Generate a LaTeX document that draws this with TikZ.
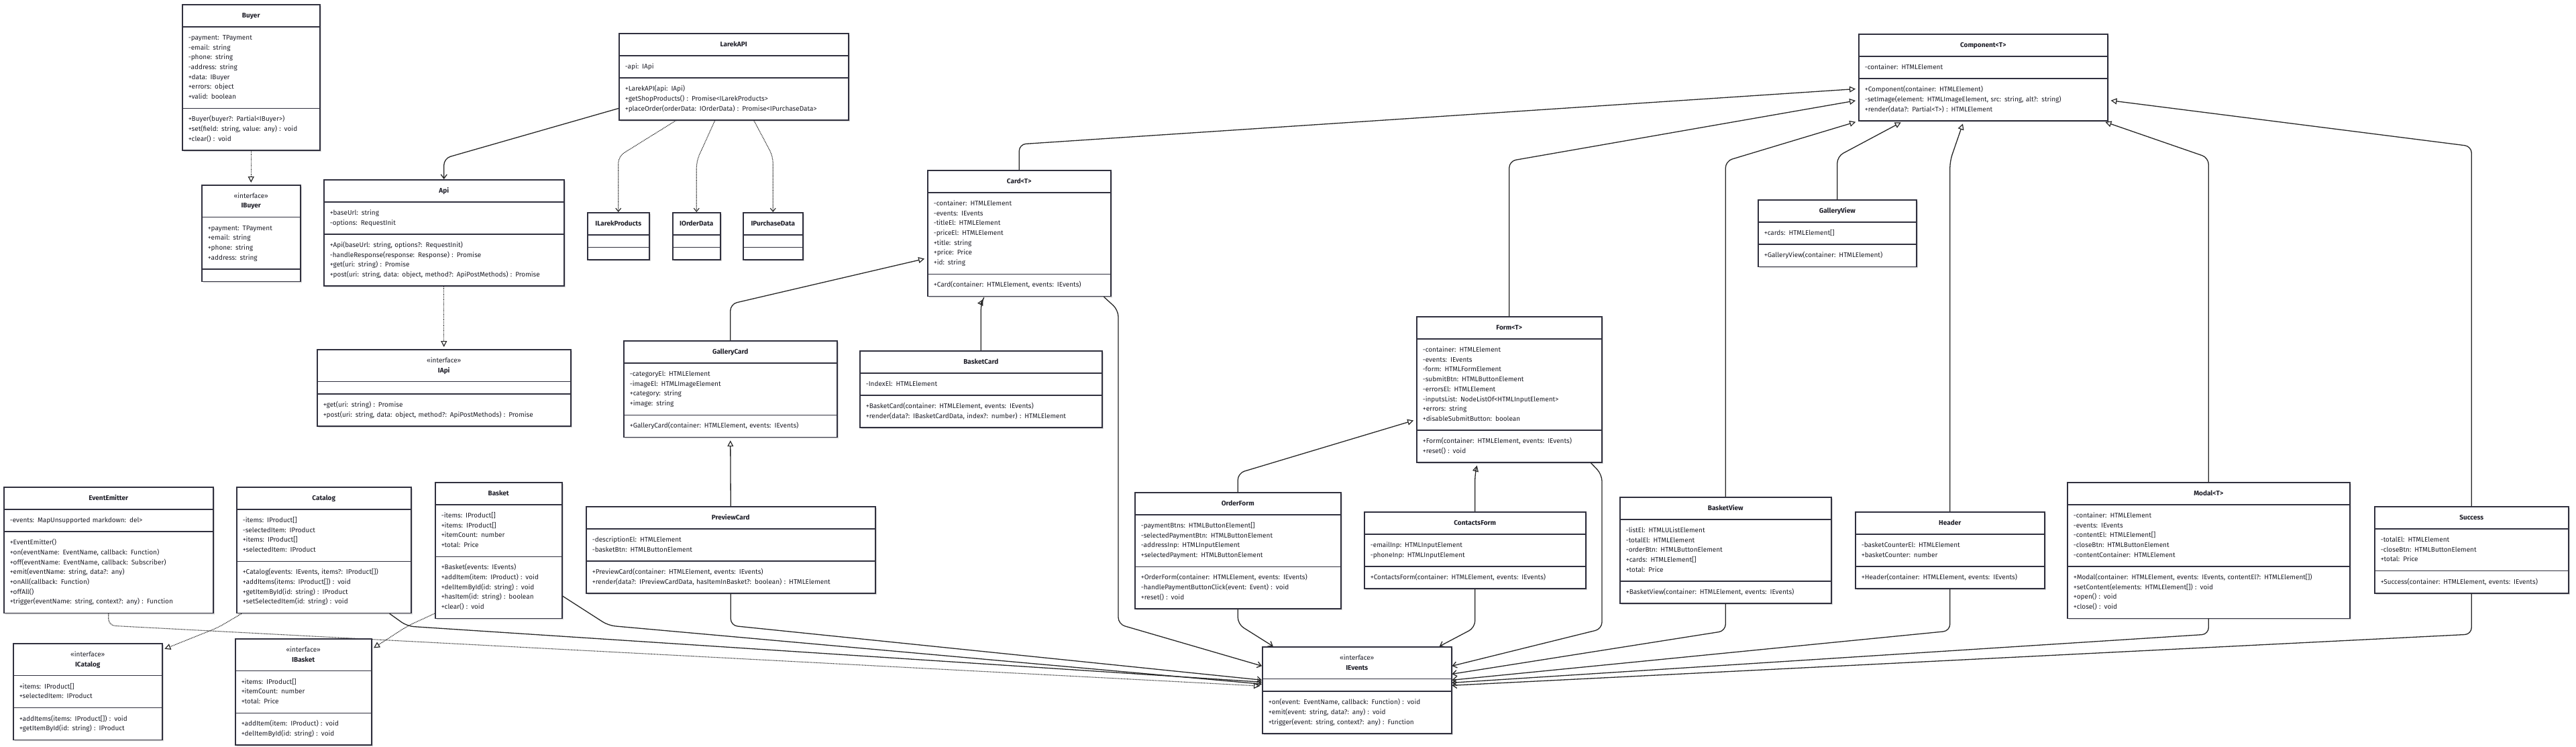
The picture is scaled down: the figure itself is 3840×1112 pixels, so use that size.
\documentclass[tikz,border=0pt]{standalone}
\usepackage{fontspec}
\newfontfamily\umlfont{Fira Sans}
\usetikzlibrary{arrows.meta,shapes.multipart,shadows}
\definecolor{boxline}{RGB}{48,48,62}
\definecolor{boxtext}{RGB}{30,30,40}
\pgfdeclarelayer{background}
\pgfsetlayers{background,main}
\newcommand\ctitle[1]{\makebox[\linewidth]{\strut\textbf{#1}}}
\newcommand\ititle[1]{\makebox[\linewidth]{\begin{tabular}{@{}c@{}}«interface»\\\textbf{#1}\end{tabular}}}
\newcommand\members[1]{\begin{tabular}{@{}l@{}}#1\end{tabular}}
\tikzset{
	umlclass/.style={rectangle split, rectangle split parts=3, draw=boxline, line width=1.5pt, fill=white, text=boxtext,
		anchor=north west, inner xsep=9pt, inner ysep=8.5pt, font=\umlfont\fontsize{10}{14.7}\selectfont,
		rectangle split empty part height=0pt, drop shadow={shadow xshift=2pt, shadow yshift=-2pt, opacity=0.15, fill=black}},
	link/.style={line width=1.3pt, draw=black!85, rounded corners=10pt},
	inherit/.style={link, -{Triangle[open, length=9pt, width=9pt, line width=1.2pt]}, shorten >=4pt},
	realize/.style={link, densely dotted, line width=1.1pt, -{Triangle[open, length=9pt, width=9pt, line width=1.2pt]}, shorten >=3pt},
	depend/.style={link, densely dotted, line width=1.1pt, -{Straight Barb[length=5pt, width=8pt]}},
	assoc/.style={link, -{Straight Barb[length=6pt, width=9pt]}},
}

\begin{document}
\begin{tikzpicture}[x=1pt, y=-1pt]
			%%%%% START %%%%%
			\useasboundingbox (0,0) rectangle (3840,1112);
			
			% model
			\node[umlclass, text width=187pt] (buyer) at (271,6) {\ctitle{Buyer}
				\nodepart{second}\members{-payment: TPayment\\-email: string\\-phone: string\\-address: string\\+data: IBuyer\\+errors: object\\+valid: boolean}
				\nodepart{third}\members{+Buyer(buyer?: Partial<IBuyer>)\\+set(field: string, value: any) : void\\+clear() : void}};
			\node[umlclass, text width=129pt] (ibuyer) at (300,275) {\ititle{IBuyer}
				\nodepart{second}\members{+payment: TPayment\\+email: string\\+phone: string\\+address: string}
				\nodepart{third}};
			
			\node[umlclass, text width=340pt] (api) at (482,267) {\ctitle{Api}
				\nodepart{second}\members{+baseUrl: string\\-options: RequestInit}
				\nodepart{third}\members{+Api(baseUrl: string, options?: RequestInit)\\-handleResponse(response: Response) : Promise\\+get(uri: string) : Promise\\+post(uri: string, data: object, method?: ApiPostMethods) : Promise}};
			\node[umlclass, text width=360pt] (iapi) at (472,520) {\ititle{IApi}
				\nodepart{second}
				\nodepart{third}\members{+get(uri: string) : Promise\\+post(uri: string, data: object, method?: ApiPostMethods) : Promise}};
			
			\node[umlclass, text width=324pt] (larekapi) at (922,49) {\ctitle{LarekAPI}
				\nodepart{second}\members{-api: IApi}
				\nodepart{third}\members{+LarekAPI(api: IApi)\\+getShopProducts() : Promise<ILarekProducts>\\+placeOrder(orderData: IOrderData) : Promise<IPurchaseData>}};
			\node[umlclass, text width=74pt] (ilarekproducts) at (875,316) {\ctitle{ILarekProducts}\nodepart{second}\nodepart{third}};
			\node[umlclass, text width=53pt] (iorderdata) at (1002,316) {\ctitle{IOrderData}\nodepart{second}\nodepart{third}};
			\node[umlclass, text width=71pt] (ipurchasedata) at (1107,316) {\ctitle{IPurchaseData}\nodepart{second}\nodepart{third}};
			
			\node[umlclass, text width=294pt] (eventemitter) at (5,725) {\ctitle{EventEmitter}
				\nodepart{second}\members{-events: MapUnsupported markdown: del>}
				\nodepart{third}\members{+EventEmitter()\\+on(eventName: EventName, callback: Function)\\+off(eventName: EventName, callback: Subscriber)\\+emit(eventName: string, data?: any)\\+onAll(callback: Function)\\+offAll()\\+trigger(eventName: string, context?: any) : Function}};
			\node[umlclass, text width=242pt] (catalog) at (352,725) {\ctitle{Catalog}
				\nodepart{second}\members{-items: IProduct[]\\-selectedItem: IProduct\\+items: IProduct[]\\+selectedItem: IProduct}
				\nodepart{third}\members{+Catalog(events: IEvents, items?: IProduct[])\\+addItems(items: IProduct[]) : void\\+getItemById(id: string) : IProduct\\+setSelectedItem(id: string) : void}};
			\node[umlclass, text width=171pt] (basket) at (648,718) {\ctitle{Basket}
				\nodepart{second}\members{-items: IProduct[]\\+items: IProduct[]\\+itemCount: number\\+total: Price}
				\nodepart{third}\members{+Basket(events: IEvents)\\+addItem(item: IProduct) : void\\+delItemById(id: string) : void\\+hasItem(id: string) : boolean\\+clear() : void}};
			\node[umlclass, text width=204pt] (icatalog) at (19,958) {\ititle{ICatalog}
				\nodepart{second}\members{+items: IProduct[]\\+selectedItem: IProduct}
				\nodepart{third}\members{+addItems(items: IProduct[]) : void\\+getItemById(id: string) : IProduct}};
			\node[umlclass, text width=185pt] (ibasket) at (350,951) {\ititle{IBasket}
				\nodepart{second}\members{+items: IProduct[]\\+itemCount: number\\+total: Price}
				\nodepart{third}\members{+addItem(item: IProduct) : void\\+delItemById(id: string) : void}};
			
			% cards
			\node[umlclass, text width=255pt] (card) at (1382,253) {\ctitle{Card<T>}
				\nodepart{second}\members{-container: HTMLElement\\-events: IEvents\\-titleEl: HTMLElement\\-priceEl: HTMLElement\\+title: string\\+price: Price\\+id: string}
				\nodepart{third}\members{+Card(container: HTMLElement, events: IEvents)}};
			\node[umlclass, text width=300pt] (gallerycard) at (929,507) {\ctitle{GalleryCard}
				\nodepart{second}\members{-categoryEl: HTMLElement\\-imageEl: HTMLImageElement\\+category: string\\+image: string}
				\nodepart{third}\members{+GalleryCard(container: HTMLElement, events: IEvents)}};
			\node[umlclass, text width=343pt] (basketcard) at (1281,522) {\ctitle{BasketCard}
				\nodepart{second}\members{-IndexEl: HTMLElement}
				\nodepart{third}\members{+BasketCard(container: HTMLElement, events: IEvents)\\+render(data?: IBasketCardData, index?: number) : HTMLElement}};
			\node[umlclass, text width=413pt] (previewcard) at (873,754) {\ctitle{PreviewCard}
				\nodepart{second}\members{-descriptionEl: HTMLElement\\-basketBtn: HTMLButtonElement}
				\nodepart{third}\members{+PreviewCard(container: HTMLElement, events: IEvents)\\+render(data?: IPreviewCardData, hasItemInBasket?: boolean) : HTMLElement}};
			
			% forms
			\node[umlclass, text width=258pt] (form) at (2111,471) {\ctitle{Form<T>}
				\nodepart{second}\members{-container: HTMLElement\\-events: IEvents\\-form: HTMLFormElement\\-submitBtn: HTMLButtonElement\\-errorsEl: HTMLElement\\-inputsList: NodeListOf<HTMLInputElement>\\+errors: string\\+disableSubmitButton: boolean}
				\nodepart{third}\members{+Form(container: HTMLElement, events: IEvents)\\+reset() : void}};
			\node[umlclass, text width=289pt] (orderform) at (1691,733) {\ctitle{OrderForm}
				\nodepart{second}\members{-paymentBtns: HTMLButtonElement[]\\-selectedPaymentBtn: HTMLButtonElement\\-addressInp: HTMLInputElement\\+selectedPayment: HTMLButtonElement}
				\nodepart{third}\members{+OrderForm(container: HTMLElement, events: IEvents)\\-handlePaymentButtonClick(event: Event) : void\\+reset() : void}};
			\node[umlclass, text width=312pt] (contactsform) at (2033,762) {\ctitle{ContactsForm}
				\nodepart{second}\members{-emailInp: HTMLInputElement\\-phoneInp: HTMLInputElement}
				\nodepart{third}\members{+ContactsForm(container: HTMLElement, events: IEvents)}};
			
			\node[umlclass, text width=264pt] (ievents) at (1881,963) {\ititle{IEvents}
				\nodepart{second}
				\nodepart{third}\members{+on(event: EventName, callback: Function) : void\\+emit(event: string, data?: any) : void\\+trigger(event: string, context?: any) : Function}};
			
			% views
			\node[umlclass, text width=353pt] (component) at (2770,50) {\ctitle{Component<T>}
				\nodepart{second}\members{-container: HTMLElement}
				\nodepart{third}\members{+Component(container: HTMLElement)\\-setImage(element: HTMLImageElement, src: string, alt?: string)\\+render(data?: Partial<T>) : HTMLElement}};
			\node[umlclass, text width=218pt] (galleryview) at (2620,297) {\ctitle{GalleryView}
				\nodepart{second}\members{+cards: HTMLElement[]}
				\nodepart{third}\members{+GalleryView(container: HTMLElement)}};
			\node[umlclass, text width=297pt] (basketview) at (2414,740) {\ctitle{BasketView}
				\nodepart{second}\members{-listEl: HTMLUListElement\\-totalEl: HTMLElement\\-orderBtn: HTMLButtonElement\\+cards: HTMLElement[]\\+total: Price}
				\nodepart{third}\members{+BasketView(container: HTMLElement, events: IEvents)}};
			\node[umlclass, text width=264pt] (header) at (2765,762) {\ctitle{Header}
				\nodepart{second}\members{-basketCounterEl: HTMLElement\\+basketCounter: number}
				\nodepart{third}\members{+Header(container: HTMLElement, events: IEvents)}};
			\node[umlclass, text width=403pt] (modal) at (3081,718) {\ctitle{Modal<T>}
				\nodepart{second}\members{-container: HTMLElement\\-events: IEvents\\-contentEl: HTMLElement[]\\-closeBtn: HTMLButtonElement\\-contentContainer: HTMLElement}
				\nodepart{third}\members{+Modal(container: HTMLElement, events: IEvents, contentEl?: HTMLElement[])\\+setContent(elements: HTMLElement[]) : void\\+open() : void\\+close() : void}};
			\node[umlclass, text width=271pt] (success) at (3539,754) {\ctitle{Success}
				\nodepart{second}\members{-totalEl: HTMLElement\\-closeBtn: HTMLButtonElement\\+total: Price}
				\nodepart{third}\members{+Success(container: HTMLElement, events: IEvents)}};
			
			\begin{pgfonlayer}{background}
			% realization
			\draw[realize] (buyer.south) -- (ibuyer.north);
			\draw[realize] (api.south) -- (iapi.north);
			\draw[realize] ([xshift=8pt]catalog.south west) -- (325,935) -- ([yshift=-10pt]icatalog.north east);
			\draw[realize] ([yshift=8pt]basket.south west) -- (607,933) -- ([yshift=-16pt]ibasket.north east);
			\draw[realize] (eventemitter.south) -- (eventemitter.south |- 0,932) -- ([yshift=6pt]ievents.west);
			
			% dependency
			\draw[depend] ([xshift=-86pt]larekapi.south) -- (ilarekproducts.north |- 0,233) -- (ilarekproducts.north);
			\draw[depend] ([xshift=-28pt]larekapi.south) -- (iorderdata.north |- 0,240) -- (iorderdata.north);
			\draw[depend] ([xshift=30pt]larekapi.south) -- (ipurchasedata.north |- 0,233) -- (ipurchasedata.north);
			\draw[assoc] ([yshift=18pt]larekapi.south west) -- (api.north |- 0,236) -- (api.north);
			
			% inheritance
			\draw[inherit] (gallerycard.north) -- (gallerycard.north |- 0,453) -- ([yshift=-37pt]card.west);
			\draw[inherit] (basketcard.north) -- (basketcard.north |- 0,452) -- ([xshift=-52pt]card.south);
			\draw[inherit] (previewcard.north) -- (gallerycard.south);
			\draw[inherit] (orderform.north) -- (orderform.north |- 0,705) -- ([yshift=-45pt]form.west);
			\draw[inherit] (contactsform.north) -- (contactsform.north |- 0,705) -- ([xshift=-47pt]form.south);
			\draw[inherit] (card.north) -- (card.north |- 0,215) -- ([yshift=-17pt]component.west);
			\draw[inherit] (form.north) -- (form.north |- 0,240) -- ([yshift=-34pt]component.west);
			\draw[inherit] (basketview.north) -- (basketview.north |- 0,240) -- (component.south west);
			\draw[inherit] (galleryview.north) -- (galleryview.north |- 0,233) -- ([xshift=-119pt]component.south);
			\draw[inherit] (header.north) -- (header.north |- 0,240) -- ([xshift=-29pt]component.south);
			\draw[inherit] (modal.north) -- (modal.north |- 0,235) -- ([xshift=-8pt]component.south east);
			\draw[inherit] (success.north) -- (success.north |- 0,218) -- ([yshift=-34pt]component.east);
			
			% events
			\draw[assoc] ([xshift=98pt]catalog.south) -- (607,933) -- ([yshift=12pt]ievents.west);
			\draw[assoc] ([yshift=-68pt]basket.east) -- (907,932) -- ([yshift=9pt]ievents.west);
			\draw[assoc] (previewcard.south) -- (previewcard.south |- 0,932) -- ([yshift=15pt]ievents.west);
			\draw[assoc] ([xshift=-11pt]card.south east) -- (1667,462) -- (1667,930) -- ([yshift=36pt]ievents.west);
			\draw[assoc] (orderform.south) -- (orderform.south |- 0,930) -- ([xshift=-125pt]ievents.north);
			\draw[assoc] (contactsform.south) -- (contactsform.south |- 0,935) -- ([xshift=123pt]ievents.north);
			\draw[assoc] ([xshift=-17pt]form.south east) -- (2388,707) -- (2388,937) -- ([yshift=36pt]ievents.east);
			\draw[assoc] (basketview.south) -- (basketview.south |- 0,940) -- ([yshift=24pt]ievents.east);
			\draw[assoc] (header.south) -- (header.south |- 0,940) -- ([yshift=15pt]ievents.east);
			\draw[assoc] (modal.south) -- (modal.south |- 0,945) -- ([yshift=11pt]ievents.east);
			\draw[assoc] (success.south) -- (success.south |- 0,945) -- ([yshift=7pt]ievents.east);
			\end{pgfonlayer}
			
			%%%%% END %%%%%
\end{tikzpicture}
\end{document}
